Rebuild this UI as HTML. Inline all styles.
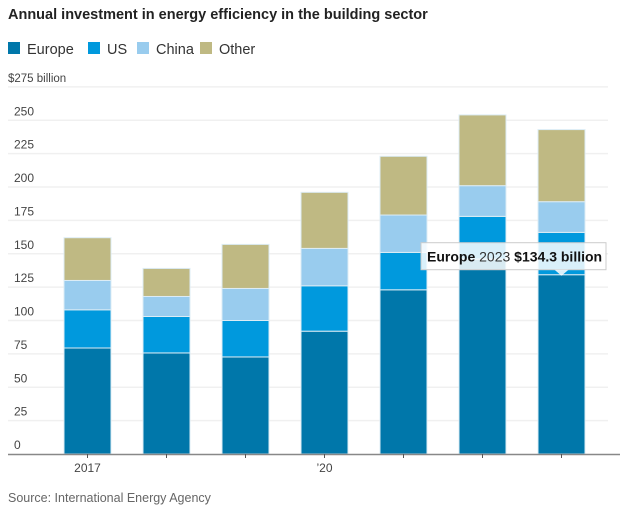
<!DOCTYPE html>
<html><head><meta charset="utf-8"><style>
body{margin:0;background:#fff;width:633px;height:513px;overflow:hidden;font-family:"Liberation Sans",sans-serif;}
svg text{font-family:"Liberation Sans",sans-serif;}
</style></head><body>
<svg id="c" width="633" height="513">
<text x="8" y="19" font-size="14.5" font-weight="bold" fill="#222">Annual investment in energy efficiency in the building sector</text>
<g id="legend"></g>
<g id="grid"></g>
<g id="bars"></g>
<g id="xaxis"></g>
<text x="8" y="502" font-size="12.5" fill="#666">Source: International Energy Agency</text>
<g id="tip"></g>
</svg>
<script>
const years=[2017,2018,2019,2020,2021,2022,2023];
const xLabels=["2017","","","’20","","",""];
const europe=[79.4,75.7,72.7,92,123,146,134.3];
const us=[28.6,27.3,27.3,34,28,32,31.7];
const china=[22,15,24,28,28,23,23];
const other=[32,21,33,42,44,53,54];
const yTicks=[0,25,50,75,100,125,150,175,200,225,250,275];
const seriesNames=["Europe","US","China","Other"];
const colors=["#0077aa","#0099dd","#99ccee","#bfb983"];
const NS="http://www.w3.org/2000/svg";
const y0=454,k=1.335,xL=8,xR=608;
const y=v=>y0-v*k;
const x=i=>64+i*79;
const bw=47;
function mk(t,a,p){const e=document.createElementNS(NS,t);for(const n in a)e.setAttribute(n,a[n]);p.appendChild(e);return e;}
const grid=document.getElementById('grid');
yTicks.forEach(t=>{
  if(t>0){const l=mk('line',{x1:xL,x2:xR,y1:y(t),y2:y(t),stroke:'#f0f0f0','stroke-width':1.5},grid);
  
  }
  const tx=mk('text',{x:t==275?8:14,y:y(t)-5,'font-size':t==275?11.5:12,fill:'#444'},grid);
  tx.textContent=t==275?'$275 billion':t;
  
  
});
const leg=document.getElementById('legend');
let lx=8;
seriesNames.forEach((n,i)=>{
  const r=mk('rect',{x:lx,y:42,width:12,height:12,fill:colors[i]},leg);
  
  
  const t=mk('text',{x:lx+19,y:54,'font-size':14.5,fill:'#333'},leg);
  t.textContent=n;
  
  
  lx+=[80,49,63,0][i];
});
const bars=document.getElementById('bars');
const series=[europe,us,china,other];
years.forEach((yr,i)=>{
  let base=0;
  series.forEach((s,j)=>{
    const top=base+s[i];
    const r=mk('rect',{x:x(i),y:y(top),width:bw,height:y(base)-y(top),fill:colors[j],stroke:'#dcecf5','stroke-width':1},bars);
    
    
    base=top;
  });
});
const xa=document.getElementById('xaxis');
mk('line',{x1:xL,x2:620,y1:y0+0.5,y2:y0+0.5,stroke:'#888','stroke-width':1.5},xa);
years.forEach((yr,i)=>{
  mk('line',{x1:x(i)+bw/2,x2:x(i)+bw/2,y1:y0,y2:y0+4,stroke:'#555'},xa);
  if(xLabels[i]){const t=mk('text',{x:x(i)+bw/2,y:y0+18,'font-size':12,fill:'#444','text-anchor':'middle'},xa);
  t.textContent=xLabels[i];
  
  }
});
const tip=document.getElementById('tip');
const ti=6,tv=europe[6];
const cx=x(ti)+bw/2,ty=y(tv);
mk('rect',{x:421,y:ty-32,width:185,height:27,fill:'rgba(255,255,255,0.85)',stroke:'#ccc'},tip);
mk('path',{d:`M${cx-7} ${ty-5} L${cx} ${ty+1} L${cx+7} ${ty-5} Z`,fill:'rgba(255,255,255,0.85)'},tip);
const tt=mk('text',{x:427,y:ty-13,'font-size':14,fill:'#111'},tip);
tt.innerHTML='<tspan font-weight="bold">Europe</tspan> <tspan fill="#333">'+years[ti]+'</tspan> <tspan font-weight="bold">$'+tv+' billion</tspan>';
</script>
</body></html>
